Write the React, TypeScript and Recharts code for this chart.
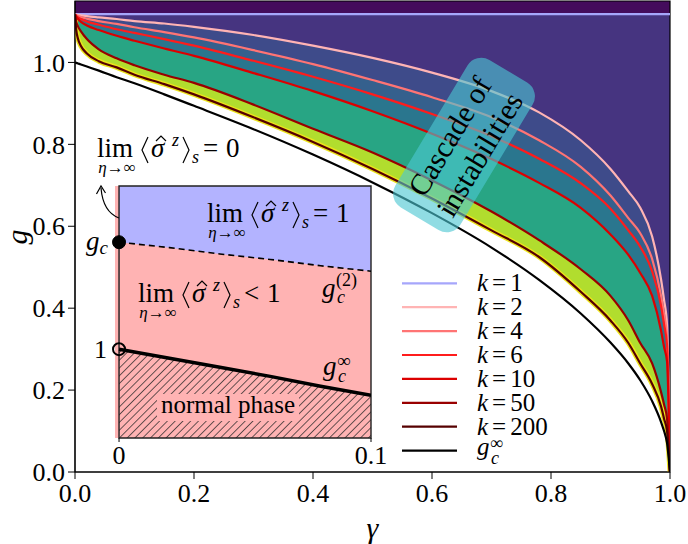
import {
  ComposedChart, Area, Line, XAxis, YAxis, CartesianGrid, ReferenceArea, ReferenceLine, ReferenceDot, Legend, Label,
} from 'recharts'

const SERIF = 'Liberation Serif'

// main panel: gamma grid and the instability thresholds g_c^(k)(gamma)
const GAMMA = [0, 0.002, 0.005, 0.01, 0.02, 0.04, 0.07, 0.1, 0.15, 0.2, 0.3, 0.4, 0.5, 0.6, 0.7, 0.78, 0.85, 0.9, 0.93, 0.95, 0.97, 0.985, 0.99, 0.995, 1.0]
const K2 = [1.117, 1.117, 1.116, 1.115, 1.113, 1.11, 1.106, 1.101, 1.095, 1.087, 1.067, 1.041, 1.011, 0.975, 0.93, 0.878, 0.81, 0.74, 0.685, 0.645, 0.575, 0.47, 0.42, 0.36, 0]
const K4 = [1.117, 1.116, 1.114, 1.111, 1.107, 1.101, 1.094, 1.086, 1.074, 1.061, 1.03, 0.996, 0.957, 0.915, 0.866, 0.81, 0.745, 0.675, 0.62, 0.583, 0.52, 0.43, 0.385, 0.33, 0]
const K6 = [1.117, 1.114, 1.11, 1.106, 1.1, 1.092, 1.081, 1.072, 1.057, 1.041, 1.004, 0.965, 0.922, 0.874, 0.82, 0.765, 0.705, 0.643, 0.59, 0.55, 0.49, 0.405, 0.36, 0.31, 0]
const K10 = [1.117, 1.112, 1.106, 1.099, 1.09, 1.079, 1.065, 1.053, 1.034, 1.016, 0.974, 0.93, 0.881, 0.826, 0.764, 0.706, 0.645, 0.58, 0.53, 0.486, 0.43, 0.345, 0.305, 0.27, 0]
const K50 = [1.117, 1.1, 1.088, 1.076, 1.057, 1.032, 1.01, 0.993, 0.97, 0.95, 0.897, 0.838, 0.78, 0.712, 0.636, 0.566, 0.495, 0.43, 0.37, 0.315, 0.265, 0.195, 0.165, 0.13, 0]
const K200 = [1.117, 1.08, 1.058, 1.04, 1.022, 1.003, 0.988, 0.97, 0.947, 0.922, 0.866, 0.806, 0.74, 0.668, 0.59, 0.525, 0.44, 0.37, 0.315, 0.265, 0.215, 0.16, 0.13, 0.1, 0]
const GINF = [1.0, 0.999, 0.9975, 0.995, 0.99, 0.98, 0.964, 0.949, 0.922, 0.894, 0.837, 0.775, 0.707, 0.632, 0.548, 0.469, 0.387, 0.316, 0.265, 0.224, 0.173, 0.122, 0.1, 0.071, 0]
const K1_LEVEL = 1.118
const G_MAX = 1.15

const X_TICKS = [0, 0.2, 0.4, 0.6, 0.8, 1.0]
const Y_TICKS = [0, 0.2, 0.4, 0.6, 0.8, 1.0]

// inset: zoom on small gamma
const INSET_GAMMA = [0, 0.02, 0.04, 0.06, 0.08, 0.1]
const INSET_G2 = [1.118, 1.112, 1.105, 1.099, 1.092, 1.086]
const INSET_GINF = [1.0, 0.99, 0.98, 0.97, 0.959, 0.949]
const G_C = 1.118
const INSET_X_TICKS = [0, 0.1]
const INSET_Y_TICKS = [1, 1.118]

const SERIES = [
  { key: 'k1', k: '1', color: '#a6a6fb' },
  { key: 'k2', k: '2', color: '#ffb4b4' },
  { key: 'k4', k: '4', color: '#ff7474' },
  { key: 'k6', k: '6', color: '#ff1c1c' },
  { key: 'k10', k: '10', color: '#dc0000' },
  { key: 'k50', k: '50', color: '#990000' },
  { key: 'k200', k: '200', color: '#560000' },
  { key: 'ginf', k: '', color: '#000000' },
]

// colour of the map just under each curve
const BAND_FILL: Record<string, string> = {
  k2: '#3e4b8a',
  k4: '#35608d',
  k6: '#2a768e',
  k10: '#28a584',
  k50: '#b1dd2e',
  k200: '#ffffff',
}

const mainData = GAMMA.map((gamma, i) => ({
  gamma, k2: K2[i], k4: K4[i], k6: K6[i], k10: K10[i], k50: K50[i], k200: K200[i], ginf: GINF[i],
}))

const insetData = INSET_GAMMA.map((gamma, i) => ({ gamma, g2: INSET_G2[i], ginf: INSET_GINF[i] }))

const tickStyle = { fontSize: 26, fontFamily: SERIF, fill: '#000' }

function KeyBox() {
  return (
    <svg width={210} height={200} style={{ display: 'block', overflow: 'visible' }}>
      {SERIES.map((s, i) => {
        const cy = 13.3 + i * 23.9
        return (
          <g key={s.key} fontFamily={SERIF}>
            <line x1={7} x2={62} y1={cy} y2={cy} stroke={s.color} strokeWidth={2.2} />
            {s.k ? (
              <text x={82} y={cy + 8} fontSize={25}>
                <tspan fontStyle="italic">k</tspan>
                <tspan dx={4}>=</tspan>
                <tspan dx={4}>{s.k}</tspan>
              </text>
            ) : (
              <g>
                <text x={82} y={cy + 4} fontSize={25} fontStyle="italic">g</text>
                <text x={95} y={cy - 2} fontSize={18}>∞</text>
                <text x={96} y={cy + 13} fontSize={18} fontStyle="italic">c</text>
              </g>
            )}
          </g>
        )
      })}
    </svg>
  )
}

function InsetTick({ x, y, payload }: any) {
  if (payload.value === 1) {
    return <text x={x} y={y + 9} textAnchor="end" fontSize={26} fontFamily={SERIF}>1</text>
  }
  return (
    <text x={x + 1} y={y + 8} textAnchor="end" fontSize={27} fontFamily={SERIF} fontStyle="italic">
      g<tspan fontSize={19} dy={4}>c</tspan>
    </text>
  )
}

function LimExpr({ x, y, rel, rhs }: { x: number; y: number; rel: string; rhs: string }) {
  return (
    <g fontFamily={SERIF} fill="#000">
      <text x={x} y={y} fontSize={27}>lim</text>
      <text x={x + 20} y={y + 16} fontSize={17} textAnchor="middle">
        <tspan fontStyle="italic">η</tspan>→∞
      </text>
      <path d={`M${x + 51},${y - 20} L${x + 45},${y - 7} L${x + 51},${y + 6}`} fill="none" stroke="#000" strokeWidth={1.2} />
      <text x={x + 54} y={y} fontSize={27} fontStyle="italic">σ</text>
      <path d={`M${x + 59},${y - 16} L${x + 64},${y - 21} L${x + 69},${y - 16}`} fill="none" stroke="#000" strokeWidth={1.2} />
      <text x={x + 75} y={y - 11} fontSize={18} fontStyle="italic">z</text>
      <path d={`M${x + 86},${y - 20} L${x + 92},${y - 7} L${x + 86},${y + 6}`} fill="none" stroke="#000" strokeWidth={1.2} />
      <text x={x + 95} y={y + 6} fontSize={18} fontStyle="italic">s</text>
      <text x={x + 106} y={y} fontSize={27}>{rel}</text>
      <text x={x + 129} y={y} fontSize={27}>{rhs}</text>
    </g>
  )
}

function Notes() {
  return (
    <svg width={688} height={544} style={{ position: 'absolute', left: 0, top: 0, pointerEvents: 'none' }}>
      <text transform="translate(16,237) rotate(-90)" fontSize={30} fontFamily={SERIF} fontStyle="italic"
        textAnchor="middle" dominantBaseline="central">g</text>

      <g transform="translate(464,145) rotate(-59)" fontFamily={SERIF}>
        <rect x={-86} y={-38} width={172} height={76} rx={16} fill="#4cc7d2" fillOpacity={0.62} />
        <text x={0} y={-17} fontSize={30} textAnchor="middle" dominantBaseline="central">Cascade of</text>
        <text x={0} y={18} fontSize={30} textAnchor="middle" dominantBaseline="central">instabilities</text>
      </g>

      <LimExpr x={97} y={157} rel="=" rhs="0" />
      <path d="M119,218 Q103,212 101,188" fill="none" stroke="#000" strokeWidth={1.2} />
      <path d="M96.5,194 L101,186 L105.5,193" fill="none" stroke="#000" strokeWidth={1.2} />

      <LimExpr x={207} y={222} rel="=" rhs="1" />
      <LimExpr x={138} y={302} rel="<" rhs="1" />

      <g fontFamily={SERIF}>
        <text x={322} y={297} fontSize={27} fontStyle="italic">g</text>
        <text x={336} y={286} fontSize={18}>(2)</text>
        <text x={337} y={303} fontSize={18} fontStyle="italic">c</text>
        <text x={323} y={375} fontSize={27} fontStyle="italic">g</text>
        <text x={337} y={367} fontSize={19}>∞</text>
        <text x={338} y={382} fontSize={18} fontStyle="italic">c</text>
      </g>

      <rect x={157} y={394} width={142} height={27} fill="#ffb3b3" />
      <text x={228} y={413} fontSize={25} fontFamily={SERIF} textAnchor="middle">normal phase</text>
    </svg>
  )
}

export default function App() {
  return (
    <div style={{ position: 'absolute', left: 0, top: 0, width: 688, height: 544, background: '#fff', fontFamily: SERIF }}>
      <ComposedChart width={688} height={544} data={mainData} margin={{ top: 1, right: 18, bottom: 0, left: 0 }}>
        <CartesianGrid horizontal={false} vertical={false} fill="#463480" />
        <XAxis dataKey="gamma" type="number" domain={[0, 1]} ticks={X_TICKS} tickFormatter={(v) => v.toFixed(1)}
          height={72} tickSize={7} tickMargin={5} tick={tickStyle} stroke="#000" allowDataOverflow>
          <Label value="γ" position="insideBottom" offset={6} fontSize={30} fontStyle="italic" fontFamily={SERIF} fill="#000" />
        </XAxis>
        <YAxis type="number" domain={[0, G_MAX]} ticks={Y_TICKS} tickFormatter={(v) => v.toFixed(1)}
          width={75} tickSize={7} tickMargin={3} tick={tickStyle} stroke="#000" allowDataOverflow />
        <ReferenceArea x1={0} x2={1} y1={K1_LEVEL} y2={G_MAX} fill="#440c5c" fillOpacity={1} stroke="none" />
        {Object.keys(BAND_FILL).map((k) => (
          <Area key={'band-' + k} dataKey={k} type="monotone" stroke="none" fill={BAND_FILL[k]} fillOpacity={1}
            isAnimationActive={false} legendType="none" />
        ))}
        <ReferenceLine y={K1_LEVEL} stroke={SERIES[0].color} strokeWidth={2.2} />
        <Line dataKey="k200" type="monotone" stroke="#ece41c" strokeWidth={5} dot={false} isAnimationActive={false} legendType="none" />
        {SERIES.slice(1).map((s) => (
          <Line key={s.key} dataKey={s.key} type="monotone" stroke={s.color} strokeWidth={2.2} dot={false}
            isAnimationActive={false} />
        ))}
        <ReferenceArea x1={0} x2={1} y1={0} y2={G_MAX} fill="none" stroke="#000" strokeWidth={1.2} />
        <Legend layout="horizontal" verticalAlign="middle" content={() => <KeyBox />}
          wrapperStyle={{ left: 395, top: 270, width: 210, height: 200 }} />
      </ComposedChart>

      <div style={{ position: 'absolute', left: 60, top: 170 }}>
        <ComposedChart width={330} height={300} data={insetData} margin={{ top: 16, right: 19, bottom: 0, left: 0 }}>
          <defs>
            <pattern id="hatch" patternUnits="userSpaceOnUse" width={5.5} height={5.5} patternTransform="rotate(45)">
              <rect width={5.5} height={5.5} fill="#ffb3b3" />
              <line x1={0} y1={0} x2={0} y2={5.5} stroke="#262626" strokeWidth={1.4} />
            </pattern>
          </defs>
          <CartesianGrid horizontal={false} vertical={false} fill="#b3b3ff" />
          <XAxis dataKey="gamma" type="number" domain={[-0.0016, 0.1]} ticks={INSET_X_TICKS}
            tickFormatter={(v) => (v === 0 ? '0' : String(v))} height={32} tickSize={4} tickMargin={4}
            tick={tickStyle} axisLine={false} stroke="#000" allowDataOverflow />
          <YAxis type="number" domain={[0.902, 1.18]} ticks={INSET_Y_TICKS} width={55} tickSize={6} tickMargin={2}
            tick={<InsetTick />} axisLine={false} tickLine={false} allowDataOverflow />
          <ReferenceArea x1={-0.0016} x2={0} y1={0.902} y2={1.18} fill="#ffb3b3" fillOpacity={1} stroke="none" />
          <Area dataKey="g2" type="linear" stroke="none" fill="#ffb3b3" fillOpacity={1} isAnimationActive={false} />
          <Area dataKey="ginf" type="linear" stroke="none" fill="url(#hatch)" fillOpacity={1} isAnimationActive={false} />
          <Line dataKey="g2" type="linear" stroke="#000" strokeWidth={1.6} strokeDasharray="6 4" dot={false} isAnimationActive={false} />
          <Line dataKey="ginf" type="linear" stroke="#000" strokeWidth={3.5} dot={false} isAnimationActive={false} />
          <ReferenceArea x1={0} x2={0.1} y1={0.902} y2={1.18} fill="none" stroke="#222" strokeWidth={1.4} />
          <ReferenceDot x={0} y={G_C} r={6.5} fill="#000" stroke="#000" />
          <ReferenceDot x={0} y={1} r={6} fill="none" stroke="#000" strokeWidth={2} />
        </ComposedChart>
      </div>

      <Notes />
    </div>
  )
}
